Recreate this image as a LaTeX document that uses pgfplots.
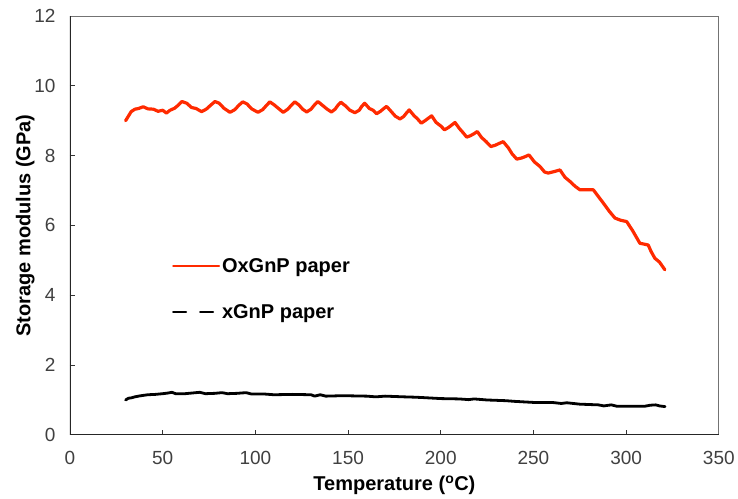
\documentclass[border=0pt]{standalone}
\usepackage{pgfplots}
\pgfplotsset{compat=1.18}
\usepackage{fontspec}
\setmainfont{Liberation Sans}
\definecolor{oxred}{RGB}{255,42,0}
\definecolor{ticklab}{RGB}{64,64,64}
\begin{document}
\begin{tikzpicture}
\begin{axis}[
  scale only axis,
  width=649pt, height=419pt,
  xmin=0, xmax=350, ymin=0, ymax=12,
  xtick={0,50,...,350}, ytick={0,2,...,12},
  tick align=inside, xtick pos=bottom, ytick pos=left,
  major tick length=5pt,
  every tick/.style={black!80, line width=0.8pt},
  axis line style={black!55, line width=0.8pt},
  /pgf/number format/assume math mode=true,
  tick label style={font=\fontsize{19}{22}\selectfont, text=ticklab},
  yticklabel style={xshift=-11pt},
  xticklabel style={yshift=-13pt},
  xlabel={\textbf{Temperature (\textsuperscript{o}C)}},
  ylabel={\textbf{Storage modulus (GPa)}},
  label style={font=\fontsize{20}{24}\selectfont},
  xlabel style={at={(axis description cs:0.5,-0.12)}, anchor=center},
  ylabel style={at={(axis description cs:-0.069,0.5)}, anchor=center, rotate=0},
  legend style={draw=none, fill=none, at={(axis description cs:0.157,0.426)}, anchor=north west,
    font=\fontsize{20}{24}\selectfont\bfseries, row sep=26pt, inner sep=0pt,
    /tikz/every even column/.append style={column sep=2pt}},
  legend cell align=left,
]
\addplot[oxred, line width=3.2pt, line join=round, line cap=round,
  legend image code/.code={\draw[oxred, line width=1.8pt] (0pt,0pt) -- (46pt,0pt);}]
coordinates {
(30,9.00) (31.5,9.13) (33,9.26) (35,9.33) (37,9.35) (39.5,9.40) (42,9.34) (45,9.33) (47.5,9.27) (50,9.30) (52,9.22) (54,9.30) (56.5,9.36) (58.5,9.45)
(60.4,9.55) (63,9.50) (65.5,9.38) (68,9.35) (71,9.26) (73.5,9.33) (76,9.45)
(78.2,9.55) (80.5,9.50) (83,9.36) (86.3,9.24) (89,9.32) (91,9.44)
(93.2,9.54) (95.5,9.48) (98,9.34) (101.4,9.24) (104,9.32) (106,9.44)
(107.8,9.54) (110,9.46) (112.5,9.35) (115,9.24) (117.5,9.33) (119.5,9.45)
(121.3,9.54) (123.5,9.45) (125.5,9.33) (127.7,9.25) (130,9.33) (132,9.46)
(133.7,9.55) (136,9.45) (138.5,9.34) (141,9.25) (143,9.33) (144.5,9.44)
(146.1,9.53) (148.5,9.43) (151,9.30) (153.7,9.23) (156,9.30) (157.5,9.42)
(159.0,9.50) (161.5,9.35) (163.5,9.30) (165.4,9.20) (167.5,9.27) (169.3,9.35)
(170.8,9.41) (173,9.28) (175.5,9.13) (178,9.05) (180,9.12) (181.5,9.22)
(183.0,9.31) (185.5,9.15) (187.5,9.05) (189.5,8.93) (191.5,9.00) (193.5,9.08)
(195.1,9.14) (197.5,8.95) (200,8.85) (202,8.74) (204,8.80) (206,8.88)
(207.7,8.95) (210,8.78) (212,8.66) (214,8.53) (216,8.57) (218,8.63)
(219.7,8.69) (222,8.52) (224.5,8.40) (227,8.26) (229.5,8.30) (231.5,8.35)
(233.7,8.40) (236.5,8.22) (238.5,8.05) (241,7.90) (243.5,7.93) (245.5,7.97)
(247.6,8.02) (250.5,7.82) (253.5,7.69) (256,7.53) (258,7.50) (261,7.54)
(264.3,7.59) (267,7.38) (269.7,7.26) (272.5,7.12) (275.1,7.02) (278.5,7.02)
(282.3,7.02) (285,6.83) (287.7,6.64) (291,6.40) (294,6.21) (297,6.15)
(300.3,6.11) (303.5,5.85) (307.4,5.49) (311.9,5.44) (313.5,5.25) (315.5,5.06)
(318,4.95) (320.9,4.73)
};
\addlegendentry{OxGnP paper}
\addplot[black, line width=2.8pt, line join=round, line cap=round,
  legend image code/.code={\draw[black, line width=2.2pt, dash pattern=on 13pt off 14pt] (0pt,0pt) -- (41pt,0pt);}]
coordinates {
(30,1.00) (31.5,1.05) (33,1.06) (35,1.09) (38,1.12) (42,1.15) (46,1.16) (50,1.18) (53,1.20) (55,1.22) (57,1.18)
(62,1.18) (66,1.20) (70,1.22) (73,1.18) (78,1.19) (82,1.21) (85,1.18) (90,1.19) (95,1.21) (98,1.17)
(105,1.17) (110,1.15) (120,1.16) (130,1.15) (132,1.11) (135,1.15) (138,1.11) (145,1.12) (150,1.12)
(160,1.11) (165,1.09) (170,1.11) (180,1.09) (186,1.08) (190,1.07) (200,1.04) (210,1.03) (215,1.01)
(218,1.03) (225,1.00) (235,0.98) (240,0.96) (250,0.93) (260,0.93) (265,0.90) (268,0.92) (275,0.88)
(285,0.86) (288,0.83) (292,0.86) (295,0.82) (300,0.82) (305,0.82) (310,0.82) (313,0.85) (316,0.86)
(318,0.83) (321,0.81)
};
\addlegendentry{xGnP paper}
\draw[black!85, line width=1.6pt] (rel axis cs:0,1) -- (rel axis cs:0,0) -- (rel axis cs:1,0);
\end{axis}
\useasboundingbox ([shift={(-70pt,-64pt)}]current axis.south west) rectangle ([shift={(19pt,16pt)}]current axis.north east);
\end{tikzpicture}
\end{document}
